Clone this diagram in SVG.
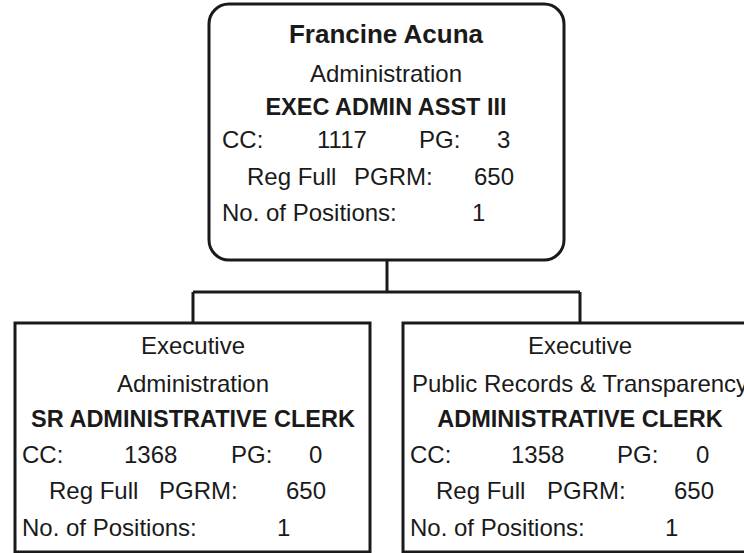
<svg xmlns="http://www.w3.org/2000/svg" width="744" height="553" viewBox="0 0 744 553">
<style>
.box{fill:#fff;stroke:#1a1a1a;stroke-width:3}
.con{fill:none;stroke:#1a1a1a;stroke-width:3}
text{font-family:"Liberation Sans",Arial,sans-serif;fill:#1a1a1a;font-size:24px}
.b{font-weight:bold;font-size:23.5px}
.n{font-weight:bold;font-size:26px}
.c{text-anchor:middle}
</style>
<rect width="744" height="553" fill="#fff"/>
<g id="connectors">
<path class="con" d="M387 260 V292 M193 292 H580 M193 292 V323 M580 292 V323"/>
</g>
<g id="node-top">
<rect class="box" x="209" y="4" width="355" height="256" rx="20" ry="20"/>
<text class="n c" x="386" y="43">Francine Acuna</text>
<text class="c" x="386" y="82">Administration</text>
<text class="b c" x="386" y="115">EXEC ADMIN ASST III</text>
<text x="222" y="148">CC:</text><text x="317" y="148">1117</text><text x="419" y="148">PG:</text><text x="497" y="148">3</text>
<text x="247" y="185">Reg Full</text><text x="354" y="185">PGRM:</text><text x="474" y="185">650</text>
<text x="222" y="221">No. of Positions:</text><text x="472" y="221">1</text>
</g>
<g id="node-left">
<rect class="box" x="15" y="323" width="355" height="229"/>
<text class="c" x="193" y="354">Executive</text>
<text class="c" x="193" y="392">Administration</text>
<text class="b c" x="193" y="427">SR ADMINISTRATIVE CLERK</text>
<text x="22" y="463">CC:</text><text x="124" y="463">1368</text><text x="231" y="463">PG:</text><text x="309" y="463">0</text>
<text x="49" y="499">Reg Full</text><text x="159" y="499">PGRM:</text><text x="286" y="499">650</text>
<text x="22" y="536">No. of Positions:</text><text x="277" y="536">1</text>
</g>
<g id="node-right">
<rect class="box" x="403" y="323" width="355" height="229"/>
<text class="c" x="580" y="354">Executive</text>
<text class="c" x="580" y="392">Public Records &amp; Transparency</text>
<text class="b c" x="580" y="427">ADMINISTRATIVE CLERK</text>
<text x="410" y="463">CC:</text><text x="511" y="463">1358</text><text x="617" y="463">PG:</text><text x="696" y="463">0</text>
<text x="436" y="499">Reg Full</text><text x="547" y="499">PGRM:</text><text x="674" y="499">650</text>
<text x="410" y="536">No. of Positions:</text><text x="665" y="536">1</text>
</g>
</svg>
